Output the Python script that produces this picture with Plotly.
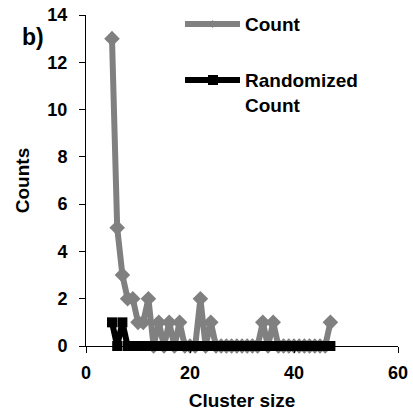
import plotly.graph_objects as go

cluster_size = list(range(5, 48))
count = [13, 5, 3, 2, 2, 1, 1, 2, 0, 1, 0, 1, 0, 1, 0, 0, 0, 2, 0, 1,
         0, 0, 0, 0, 0, 0, 0, 0, 0, 1, 0, 1, 0, 0, 0, 0, 0, 0, 0, 0, 0, 0, 1]
randomized = [1, 0, 1] + [0] * 40

font = "Liberation Sans, Arial, sans-serif"
GRAY = "#808080"

fig = go.Figure()
fig.add_trace(go.Scatter(
    x=cluster_size, y=count, name="Count", mode="lines+markers",
    line=dict(color=GRAY, width=6),
    marker=dict(symbol="diamond", size=12, color=GRAY),
    cliponaxis=False, showlegend=False,
))
fig.add_trace(go.Scatter(
    x=cluster_size, y=randomized, name="Randomized Count", mode="lines+markers",
    line=dict(color="#000000", width=6),
    marker=dict(symbol="square", size=10, color="#000000"),
    cliponaxis=False, showlegend=False,
))

tickfont = dict(family=font, size=18, color="black", weight="bold")
axis_common = dict(
    showgrid=False, zeroline=False, showline=True, linecolor="black", linewidth=1,
    ticks="outside", tickcolor="black", ticklen=6, tickwidth=1,
    tickfont=tickfont, automargin=False,
)

fig.update_layout(
    width=413, height=419,
    margin=dict(l=86, r=15, t=15, b=73, autoexpand=False),
    paper_bgcolor="white", plot_bgcolor="white",
    font=dict(family=font, size=15, color="black"),
    xaxis=dict(range=[0, 60], dtick=20, ticklabelstandoff=4, **axis_common,
               title=dict(text="Cluster size",
                          font=dict(family=font, size=19, weight="bold"), standoff=12)),
    yaxis=dict(range=[0, 14], dtick=2, ticklabelstandoff=8, **axis_common,
               title=dict(text="Counts",
                          font=dict(family=font, size=19, weight="bold"), standoff=12)),
    showlegend=False,
)

# manual legend (paper coordinates)
def px_x(p):
    return (p - 86) / 312

def px_y(p):
    return (346 - p) / 331

legend_items = [
    ("Count", GRAY, "diamond", 24),
    ("Randomized<br>Count", "#000000", "square", 80),
]
for label, col, sym, py in legend_items:
    fig.add_shape(type="line", xref="paper", yref="paper",
                  x0=px_x(185), x1=px_x(240), y0=px_y(py), y1=px_y(py),
                  line=dict(color=col, width=6))
    if sym == "square":
        fig.add_shape(type="rect", xref="paper", yref="paper",
                      x0=px_x(208), x1=px_x(218), y0=px_y(py - 5), y1=px_y(py + 5),
                      fillcolor=col, line=dict(width=0))
    else:
        fig.add_shape(type="path", xref="paper", yref="paper",
                      path=f"M {px_x(209)} {px_y(py)} L {px_x(212.5)} {px_y(py - 4)} "
                           f"L {px_x(216)} {px_y(py)} L {px_x(212.5)} {px_y(py + 4)} Z",
                      fillcolor=col, line=dict(width=0))
    fig.add_annotation(text=label, xref="paper", yref="paper",
                       x=px_x(243), y=px_y(py - 12), xanchor="left", yanchor="top",
                       align="left", showarrow=False,
                       font=dict(family=font, size=19, color="black", weight="bold"))

fig.add_annotation(text="b)", x=px_x(20), y=px_y(37), xref="paper", yref="paper",
                   xanchor="left", yanchor="middle", showarrow=False,
                   font=dict(family=font, size=23, color="black", weight="bold"))
fig.write_html("out.html")
